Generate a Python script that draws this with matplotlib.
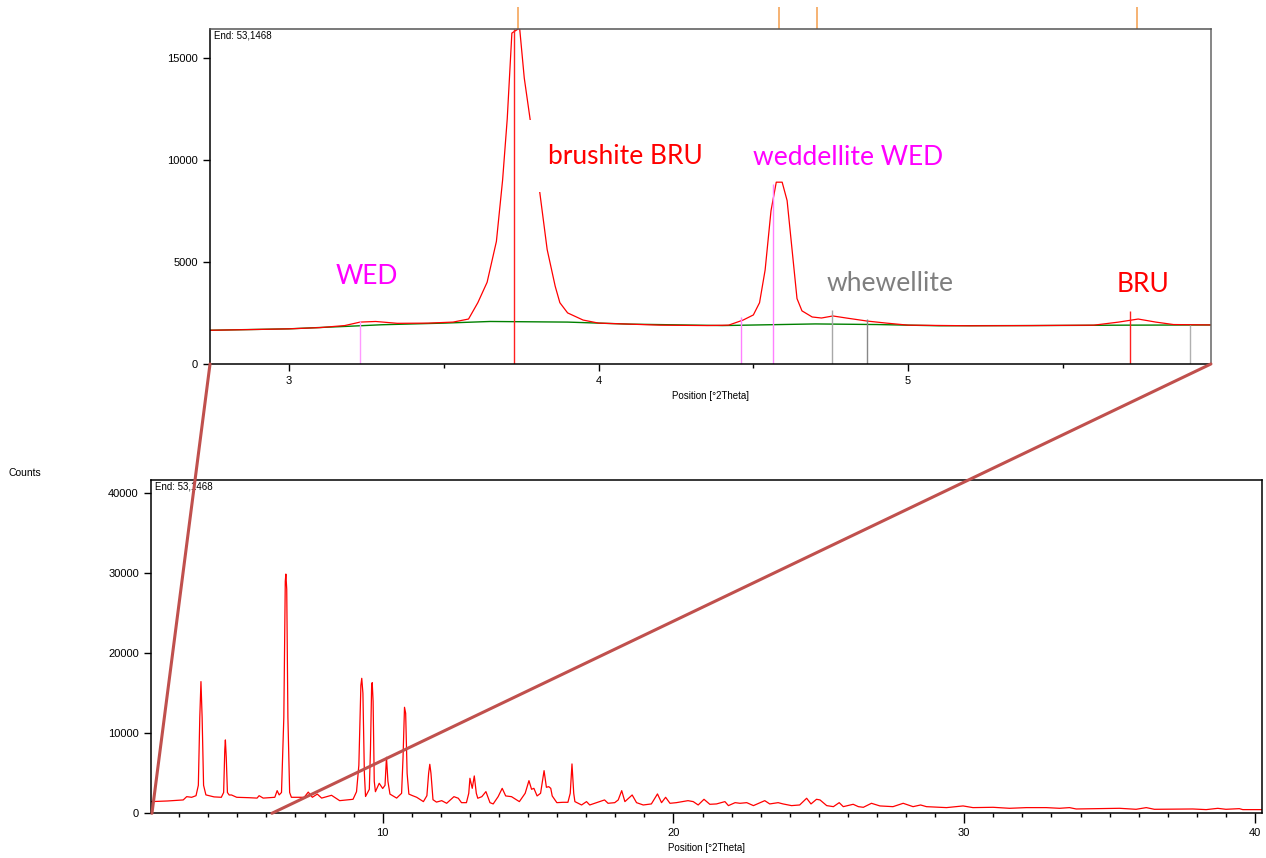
import numpy as np
import matplotlib
matplotlib.use('Agg')
import matplotlib.pyplot as plt
from matplotlib.patches import ConnectionPatch
import matplotlib.transforms as mtransforms

# full scan
scan_pos = [2.03, 2.6, 3.14, 3.26, 3.43, 3.58, 3.66, 3.71, 3.75, 3.79, 3.84, 3.92, 4.2, 4.45,
	4.53, 4.57, 4.59, 4.62, 4.66, 4.72, 4.80, 4.98, 5.4, 5.68, 5.75, 5.89, 6.29, 6.37, 6.44,
	6.52, 6.6, 6.65, 6.67, 6.70, 6.74, 6.80, 6.86, 7.06, 7.3, 7.44, 7.58, 7.75, 7.9, 8.24,
	8.52, 8.98, 9.10, 9.18, 9.25, 9.28, 9.32, 9.37, 9.41, 9.54, 9.58, 9.62, 9.64, 9.67, 9.71,
	9.75, 9.88, 10.0, 10.08, 10.13, 10.18, 10.25, 10.48, 10.65, 10.70, 10.75, 10.79, 10.84,
	10.9, 11.03, 11.17, 11.22, 11.40, 11.52, 11.58, 11.62, 11.66, 11.73, 11.85, 12.03, 12.2,
	12.45, 12.6, 12.71, 12.88, 12.96, 13.0, 13.08, 13.15, 13.22, 13.27, 13.41, 13.55, 13.69,
	13.8, 13.97, 14.11, 14.23, 14.43, 14.7, 14.9, 15.03, 15.12, 15.2, 15.31, 15.43, 15.55,
	15.63, 15.71, 15.78, 15.83, 15.99, 16.2, 16.37, 16.45, 16.51, 16.57, 16.61, 16.84, 17.01,
	17.12, 17.35, 17.63, 17.75, 17.98, 18.1, 18.22, 18.33, 18.58, 18.73, 18.96, 19.24, 19.45,
	19.59, 19.73, 19.88, 20.1, 20.5, 20.68, 20.85, 21.05, 21.25, 21.48, 21.77, 21.89, 22.12,
	22.29, 22.52, 22.75, 23.14, 23.31, 23.6, 23.77, 24.06, 24.34, 24.58, 24.73, 24.92, 25.04,
	25.27, 25.5, 25.7, 25.84, 26.18, 26.36, 26.53, 26.81, 27.1, 27.55, 27.9, 28.24, 28.5,
	28.7, 29.39, 29.96, 30.3, 30.99, 31.56, 32.14, 32.82, 33.28, 33.62, 33.85, 35.34, 35.91,
	36.26, 36.54, 37.86, 38.32, 38.72, 39.0, 39.46, 39.58, 40.23]
scan_counts = [1460, 1540, 1670, 2080, 2000, 2200, 3500, 12000, 16460, 12000, 3500, 2300, 2050, 2000,
	2600, 8000, 9170, 7000, 2600, 2290, 2290, 2000, 1950, 1900, 2200, 1900, 2000, 2830, 2300,
	2600, 12000, 29000, 29900, 28000, 12000, 2600, 2000, 2000, 2000, 2650, 2000, 2400, 1900, 2250,
	1580, 1750, 2700, 6000, 16000, 16870, 15000, 5000, 2100, 3000, 8000, 16000, 16330, 14000, 4000,
	2700, 3750, 3100, 3500, 7000, 4000, 2400, 1900, 2500, 7000, 13250, 12500, 5000,
	2400, 2200, 2000, 1880, 1460, 2200, 5000, 6125, 5000, 1700, 1400, 1580, 1250,
	2080, 1880, 1330, 1330, 2500, 4375, 3120, 4670, 2500, 1880, 2080, 2710, 1330,
	1170, 2080, 3120, 2170, 2080, 1460, 2500, 4080, 3000, 3120, 2170, 2500, 5330,
	3250, 3330, 3120, 2170, 1330, 1375, 1375, 2500, 6170, 2500, 1460, 1040, 1460,
	1040, 1330, 1670, 1250, 1330, 1670, 2830, 1460, 2290, 1330, 1040, 1170, 2420,
	1330, 2000, 1250, 1330, 1580, 1460, 1040, 1750, 1125, 1170, 1460, 960, 1330,
	1250, 1330, 960, 1580, 1170, 1330, 1170, 960, 1040, 1880, 1170, 1750, 1670,
	960, 830, 1330, 830, 1125, 830, 750, 1250, 920, 830, 1250, 830, 1040,
	830, 710, 920, 710, 750, 625, 710, 710, 625, 710, 540, 625, 500,
	710, 500, 540, 460, 620, 500, 580, 460, 460]

# zoomed part
zoom_pos = [2.745, 2.9, 3.0, 3.1, 3.18, 3.23, 3.28, 3.35, 3.45, 3.53, 3.58, 3.61, 3.64, 3.67,
	3.69, 3.705, 3.72, 3.745, 3.76, 3.782, 3.805, 3.834, 3.86, 3.875, 3.90, 3.95, 4.0, 4.1,
	4.2, 4.35, 4.42, 4.467, 4.50, 4.52, 4.538, 4.557, 4.574, 4.593, 4.609, 4.625, 4.641,
	4.657, 4.69, 4.72, 4.757, 4.8, 4.868, 4.93, 5.0, 5.2, 5.4, 5.6, 5.68, 5.743, 5.8, 5.857, 5.978]
zoom_counts = [1650, 1690, 1720, 1780, 1880, 2050, 2080, 1990, 2000, 2050, 2200, 3000, 4000, 6000,
	9000, 12000, 16200, 16450, 14000, 11650, 9000, 5600, 3800, 3000, 2500, 2150, 2000, 1950,
	1900, 1880, 1900, 2150, 2400, 3000, 4600, 7500, 8900, 8900, 8000, 5600, 3200,
	2600, 2300, 2250, 2350, 2250, 2100, 2000, 1900, 1870, 1880, 1900, 2050, 2200, 2050, 1930, 1910]
bg_pos = [2.745, 3.0, 3.2, 3.3, 3.5, 3.65, 3.9, 4.1, 4.4, 4.55, 4.7, 4.9, 5.1, 5.4, 5.7, 5.978]
bg_counts = [1650, 1720, 1850, 1920, 2000, 2080, 2050, 1950, 1880, 1920, 1960, 1930, 1870, 1880, 1900, 1910]

# reference sticks: position, height, colour
ref_pos = [3.229, 3.727, 4.461, 4.562, 4.755, 4.868, 5.718, 5.911]
ref_height = [2100, 16400, 2300, 8800, 2640, 2200, 2590, 1900]
ref_color = ['#ff99ff', '#ff2020', '#ff80ff', '#ff80ff', '#a8a8a8', '#888888', '#ff2020', '#b0b0b0']
# orange marks above the top axis
mark_pos = [3.740, 4.582, 4.707, 5.739]

labels = ['WED', 'brushite BRU', 'weddellite WED', 'whewellite', 'BRU']
label_pos = [3.152, 3.837, 4.499, 4.738, 5.675]
label_y = [4260, 10180, 10130, 3920, 3870]
label_color = ['#ff00ff', '#ff0000', '#ff00ff', '#7f7f7f', '#ff0000']

plt.rcParams['font.family'] = ['Liberation Sans', 'DejaVu Sans']

fig = plt.figure(figsize=(12.66, 8.58), dpi=100)
ax1 = fig.add_axes([0.1659, 0.5758, 0.7906, 0.3904])
ax2 = fig.add_axes([0.1190, 0.0521, 0.8776, 0.3885])

def style_axes(ax):
	ax.tick_params(axis='both', which='both', direction='out', labelsize=8, width=1)
	ax.tick_params(axis='both', which='major', length=5)
	ax.tick_params(axis='x', which='minor', length=3)
	for s in ax.spines.values():
		s.set_linewidth(1.1)
	ax.text(0.004, 0.995, 'End: 53,1468', transform=ax.transAxes, fontsize=7, va='top', ha='left')
	ax.set_xlabel('Position [°2Theta]', fontsize=7, labelpad=4)

# upper panel
ax1.plot(bg_pos, bg_counts, color='#008000', lw=1.0)
ax1.plot(zoom_pos, zoom_counts, color='#ff0000', lw=0.9)
ax1.vlines(ref_pos, 0, ref_height, colors=ref_color, lw=1.0)
trans = mtransforms.blended_transform_factory(ax1.transData, ax1.transAxes)
ax1.vlines(mark_pos, 1.0, 1.066, colors='#f5a55a', lw=1.2, transform=trans, clip_on=False)
for t, x, y, c in zip(labels, label_pos, label_y, label_color):
	bb = None
	if t == 'brushite BRU':
		# white box hides part of the peak flank, as in the original
		bb = dict(facecolor='white', edgecolor='none', pad=17)
	ax1.text(x, y, t, color=c, fontsize=19, family=['Lato', 'DejaVu Sans'], va='center', ha='left', bbox=bb)
ax1.set_xlim(2.745, 5.978)
ax1.set_ylim(0, 16400)
ax1.set_xticks([3, 4, 5])
ax1.set_xticks([3.5, 4.5, 5.5], minor=True)
ax1.set_yticks([0, 5000, 10000, 15000])
ax1.spines['top'].set_color('#555555')
ax1.spines['right'].set_color('#666666')
ax1.spines['right'].set_linewidth(2)
style_axes(ax1)

# lower panel
ax2.plot(scan_pos, scan_counts, color='#ff0000', lw=0.9)
ax2.set_xlim(2.02, 40.23)
ax2.set_ylim(0, 41660)
ax2.set_xticks([10, 20, 30, 40])
ax2.set_xticks(np.arange(3, 41), minor=True)
ax2.set_yticks([0, 10000, 20000, 30000, 40000])
style_axes(ax2)
ax2.tick_params(axis='x', which='major', length=7)
fig.text(0.007, 0.449, 'Counts', fontsize=7.5, ha='left', va='center')

# zoom connector lines
for xa, xb in [(0.0, 2.065), (1.0, 6.19)]:
	con = ConnectionPatch(xyA=(xa, 0.0), coordsA='axes fraction', axesA=ax1,
		xyB=(xb, 0), coordsB='data', axesB=ax2, color='#c0504d', lw=2.2)
	fig.add_artist(con)

fig.savefig('out.png', dpi=100)
